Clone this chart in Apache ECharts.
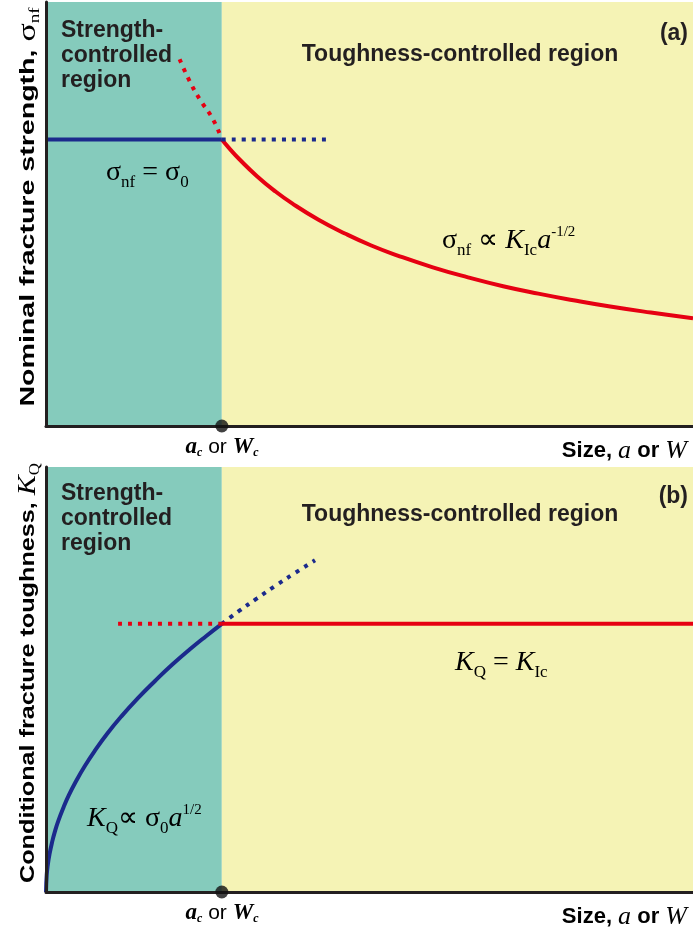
<!DOCTYPE html>
<html><head><meta charset="utf-8">
<script src="https://cdn.jsdelivr.net/npm/echarts@6/dist/echarts.min.js"></script>
<style>html,body{margin:0;padding:0;background:#fff}#c{width:693px;height:934px}</style>
</head><body><div id="c"></div>
<script>
// ---------------- data (size in units of a_c, strength in σ0, toughness in K_Ic) ----------------
const xMax = 3.68;
const yMaxA = 1.48;
const yMaxB = 1.585;
const criticalSize = 1;            // a_c or W_c
const regionEdges = [0, 1, 3.68];  // strength-controlled | toughness-controlled

// panel (a): nominal fracture strength
const blueSolidA_x = [0, 1];
const blueSolidA_y = [1, 1];
const blueDotA_x = [1, 1.6];
const blueDotA_y = [1, 1];
const redDotA_x = [0.76, 0.82, 0.875, 0.95, 1.0];
const redDotA_y = [1.28, 1.20, 1.14, 1.07, 1.0];
const redSolidA_x = [1.0, 1.05, 1.1, 1.2, 1.3, 1.4, 1.55, 1.7, 1.85, 2.0, 2.2, 2.4, 2.6, 2.8, 3.0, 3.2, 3.44, 3.68];
const redSolidA_y = [1.0, 0.964, 0.931, 0.872, 0.821, 0.777, 0.72, 0.672, 0.63, 0.595, 0.554, 0.519, 0.488, 0.462, 0.439, 0.418, 0.396, 0.376];

// panel (b): conditional fracture toughness
const blueSolidB_x = [0, 0.004, 0.01, 0.02, 0.035, 0.05, 0.07, 0.1, 0.13, 0.17, 0.22, 0.28, 0.35, 0.43, 0.52, 0.62, 0.72, 0.82, 0.91, 1.0];
const blueSolidB_y = [0, 0.063, 0.1, 0.141, 0.187, 0.224, 0.265, 0.316, 0.361, 0.412, 0.469, 0.529, 0.592, 0.656, 0.721, 0.787, 0.849, 0.906, 0.954, 1.0];
const blueDotB_x = [1.0, 1.1, 1.2, 1.3, 1.4, 1.53];
const blueDotB_y = [1.0, 1.049, 1.095, 1.14, 1.183, 1.237];
const redDotB_x = [0.41, 1.0];
const redDotB_y = [1, 1];
const redSolidB_x = [1.0, 3.68];
const redSolidB_y = [1, 1];

// ---------------- styling ----------------
const TEAL = '#85cbbc', YELLOW = '#f5f3b5', RED = '#e60012', BLUE = '#1b2a8c', INK = '#231f20';
const SERIF = "'Liberation Serif','Times New Roman',serif";
const SANS = "'Liberation Sans',Arial,sans-serif";
const zip = (xs, ys) => xs.map((x, i) => [x, ys[i]]);

function lineSeries(xs, ys, color, dotted, gi) {
  return {
    type: 'line', xAxisIndex: gi, yAxisIndex: gi, data: zip(xs, ys),
    smooth: 0.5, showSymbol: false, symbol: 'none', z: 5, silent: true,
    lineStyle: { color: color, width: 4, type: dotted ? [4, 6] : 'solid', cap: 'butt' }
  };
}
function bgSeries(gi) {
  return {
    type: 'line', xAxisIndex: gi, yAxisIndex: gi, data: [], z: 1, silent: true,
    markArea: {
      silent: true,
      data: [
        [{ xAxis: regionEdges[0], itemStyle: { color: TEAL } }, { xAxis: regionEdges[1] }],
        [{ xAxis: regionEdges[1], itemStyle: { color: YELLOW } }, { xAxis: regionEdges[2] }]
      ]
    }
  };
}
function dotSeries(gi) {
  return {
    type: 'scatter', xAxisIndex: gi, yAxisIndex: gi, data: [[criticalSize, 0]],
    symbolSize: 13, itemStyle: { color: '#111' }, z: 20, clip: false, silent: true
  };
}
const axisLine = { show: true, onZero: false, lineStyle: { color: INK, width: 3 } };
function xAx(gi) {
  return { gridIndex: gi, type: 'value', min: 0, max: xMax, z: 10, axisLine: axisLine,
    axisTick: { show: false }, axisLabel: { show: false }, splitLine: { show: false } };
}
function yAx(gi, max) {
  return { gridIndex: gi, type: 'value', min: 0, max: max, z: 10, axisLine: axisLine,
    axisTick: { show: false }, axisLabel: { show: false }, splitLine: { show: false } };
}

// rich text styles
const rich = {
  m: { fontFamily: SERIF, fontSize: 28, color: INK },
  i: { fontFamily: SERIF, fontSize: 28, fontStyle: 'italic', color: INK },
  sb: { fontFamily: SERIF, fontSize: 17, color: INK, padding: [19, 0, 0, 0] },
  sp: { fontFamily: SERIF, fontSize: 15, color: INK, padding: [0, 0, 17, 0] },
  ib: { fontFamily: SERIF, fontSize: 23, fontStyle: 'italic', fontWeight: 'bold', color: INK },
  ibs: { fontFamily: SERIF, fontSize: 12, fontStyle: 'italic', fontWeight: 'bold', color: INK, padding: [12, 0, 0, 0] },
  r: { fontFamily: SANS, fontSize: 21, color: INK },
  bs: { fontFamily: SANS, fontSize: 22, fontWeight: 'bold', color: INK },
  it: { fontFamily: SERIF, fontSize: 26, fontStyle: 'italic', color: INK },
  yl: { fontFamily: SANS, fontSize: 21, fontWeight: 'bold', color: INK },
  ys: { fontFamily: SERIF, fontSize: 25, color: INK },
  yi: { fontFamily: SERIF, fontSize: 25, fontStyle: 'italic', color: INK },
  yss: { fontFamily: SERIF, fontSize: 14, color: INK, padding: [14, 0, 0, 0] }
};
function rt(text, x, y, align, extra) {
  return Object.assign({ type: 'text', x: x, y: y, z: 50, silent: true,
    style: { text: text, rich: rich, align: align || 'left', verticalAlign: 'middle' } }, extra || {});
}
function plain(text, x, y, align, vAlign) {
  return { type: 'text', x: x, y: y, z: 50, silent: true,
    style: { text: text, font: 'bold 23px ' + SANS, fill: INK, align: align, verticalAlign: vAlign, lineHeight: 25 } };
}

const graphics = [
  // panel (a)
  plain('Strength-\ncontrolled\nregion', 61, 18, 'left', 'top'),
  plain('Toughness-controlled region', 460, 55, 'center', 'middle'),
  plain('(a)', 688, 34, 'right', 'middle'),
  rt('{m|σ}{sb|nf}{m| = σ}{sb|0}', 106, 173),
  rt('{m|σ}{sb|nf}{m| ∝ }{i|K}{sb|Ic}{i|a}{sp|-1/2}', 442, 241),
  rt('{ib|a}{ibs|c}{r| or }{ib|W}{ibs|c}', 222, 447, 'center'),
  rt('{bs|Size, }{it|a}{bs| or }{it|W}', 687, 451, 'right'),
  rt('{yl|Nominal fracture strength, }{ys|σ}{yss|nf}', 28, 207, 'center', { rotation: Math.PI / 2, scaleX: 1.36 }),
  // panel (b)
  plain('Strength-\ncontrolled\nregion', 61, 481, 'left', 'top'),
  plain('Toughness-controlled region', 460, 515, 'center', 'middle'),
  plain('(b)', 688, 497, 'right', 'middle'),
  rt('{i|K}{sb|Q}{m| = }{i|K}{sb|Ic}', 455, 663),
  rt('{i|K}{sb|Q}{m|∝ σ}{sb|0}{i|a}{sp|1/2}', 87, 819),
  rt('{ib|a}{ibs|c}{r| or }{ib|W}{ibs|c}', 222, 913, 'center'),
  rt('{bs|Size, }{it|a}{bs| or }{it|W}', 687, 917, 'right'),
  rt('{yl|Conditional fracture toughness, }{yi|K}{yss|Q}', 28, 673, 'center', { rotation: Math.PI / 2, scaleX: 1.2 })
];

const chart = echarts.init(document.getElementById('c'), null, { renderer: 'canvas' });
chart.setOption({
  animation: false,
  backgroundColor: '#fff',
  grid: [
    { left: 46, top: 2, width: 647, height: 424 },
    { left: 46, top: 467, width: 647, height: 425 }
  ],
  xAxis: [xAx(0), xAx(1)],
  yAxis: [yAx(0, yMaxA), yAx(1, yMaxB)],
  series: [
    bgSeries(0), bgSeries(1),
    lineSeries(redDotA_x, redDotA_y, RED, true, 0),
    lineSeries(redSolidA_x, redSolidA_y, RED, false, 0),
    lineSeries(blueSolidA_x, blueSolidA_y, BLUE, false, 0),
    lineSeries(blueDotA_x, blueDotA_y, BLUE, true, 0),
    lineSeries(blueSolidB_x, blueSolidB_y, BLUE, false, 1),
    lineSeries(blueDotB_x, blueDotB_y, BLUE, true, 1),
    lineSeries(redDotB_x, redDotB_y, RED, true, 1),
    lineSeries(redSolidB_x, redSolidB_y, RED, false, 1),
    dotSeries(0), dotSeries(1)
  ],
  graphic: graphics
});
</script>
</body></html>
